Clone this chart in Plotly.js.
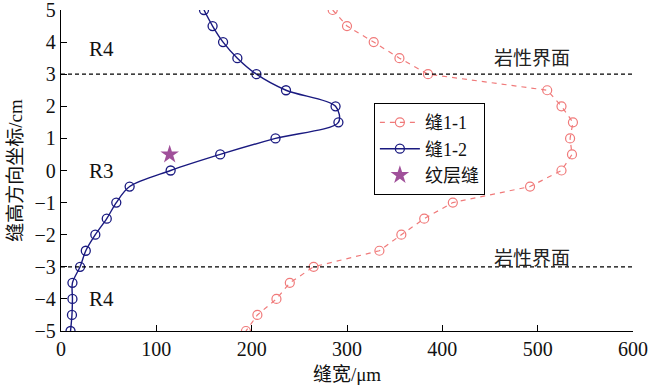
<!DOCTYPE html>
<html>
<head>
<meta charset="utf-8">
<script src="https://cdn.plot.ly/plotly-3.0.1.min.js"></script>
<style>html,body{margin:0;padding:0;background:#fff;}#chart{width:650px;height:390px;}</style>
</head>
<body>
<div id="chart"></div>
<script>
// Heights (cm)
const heights = [5, 4.5, 4, 3.5, 3, 2.5, 2, 1.5, 1, 0.5, 0, -0.5, -1, -1.5, -2, -2.5, -3, -3.5, -4, -4.5, -5];
// 缝1-1 widths (μm)
const width11 = [285, 300, 328, 355, 385, 510, 525, 537, 534, 536, 525, 492, 411, 381, 357, 334, 265, 240, 226, 206, 194];
// 缝1-2 widths (μm)
const width12 = [150, 159, 170, 185, 205, 236, 288, 291, 225, 167, 115, 72, 58, 48, 36, 26, 20, 12, 12, 11.5, 10];
// 纹层缝
const beddingX = [114];
const beddingY = [0.5];
// interfaces
const interfaceY = [3, -3];
const xTicks = [0, 100, 200, 300, 400, 500, 600];
const yTicks = [-5, -4, -3, -2, -1, 0, 1, 2, 3, 4, 5];
const yTickText = ['\u22125', '\u22124', '\u22123', '\u22122', '\u22121', '0', '1', '2', '3', '4', '5'];

const SERIF = 'Liberation Serif';
const FONT = 'Liberation Serif, Noto Sans CJK SC';
const CJK = 'Noto Sans CJK SC';

const traces = [
  {
    x: width11, y: heights, name: '缝1-1', mode: 'lines+markers', type: 'scatter',
    line: {color: '#f07a7a', width: 1.2, dash: '5px,5px'},
    marker: {symbol: 'circle-open', size: 9, color: '#f07a7a', line: {width: 1.2, color: '#f07a7a'}}
  },
  {
    x: width12, y: heights, name: '缝1-2', mode: 'lines+markers', type: 'scatter',
    line: {color: '#1a1a80', width: 1.4, shape: 'spline', smoothing: 0.9},
    marker: {symbol: 'circle-open', size: 9, color: '#1a1a80', line: {width: 1.3, color: '#1a1a80'}}
  },
  {
    x: beddingX, y: beddingY, name: '纹层缝', mode: 'markers', type: 'scatter',
    marker: {symbol: 'star', size: 14, color: '#a0509a'}
  }
];

const shapes = interfaceY.map(v => ({
  type: 'line', xref: 'paper', x0: 0, x1: 1, yref: 'y', y0: v, y1: v,
  line: {color: '#000', width: 1.3, dash: '4px,3px'}
}));

const annotations = [
  {x: 42, y: 3.8, text: 'R4'},
  {x: 42, y: 0, text: 'R3'},
  {x: 42, y: -4.0, text: 'R4'},
  {x: 494, y: 3.56, text: '岩性界面', font: {family: CJK, size: 19, color: '#222'}},
  {x: 494, y: -2.69, text: '岩性界面', font: {family: CJK, size: 19, color: '#222'}}
].map(a => Object.assign({xref: 'x', yref: 'y', showarrow: false, font: {family: SERIF, size: 21, color: '#111'}}, a));

const layout = {
  width: 650, height: 390,
  margin: {l: 61, r: 17, t: 10, b: 59},
  paper_bgcolor: '#fff', plot_bgcolor: '#fff',
  font: {family: FONT, size: 19, color: '#111'},
  showlegend: true,
  legend: {
    x: 0.547, y: 0.71, xanchor: 'left', yanchor: 'top',
    bgcolor: '#fff', bordercolor: '#000', borderwidth: 1,
    font: {family: FONT, size: 18, color: '#111'},
    tracegroupgap: 0, itemwidth: 40
  },
  xaxis: {
    range: [0, 600], tickvals: xTicks, ticks: 'inside', ticklen: 6, tickcolor: '#000',
    showline: true, linecolor: '#000', linewidth: 1.2, zeroline: false, showgrid: false,
    tickfont: {family: SERIF, size: 20, color: '#111'}, ticklabeloverflow: 'allow',
    title: {text: '缝宽/μm', font: {family: FONT, size: 19, color: '#111'}, standoff: 8}
  },
  yaxis: {
    range: [-5, 5.0001], tickvals: yTicks, ticktext: yTickText, ticks: 'inside', ticklen: 6, tickcolor: '#000',
    showline: true, linecolor: '#000', linewidth: 1.2, zeroline: false, showgrid: false,
    tickfont: {family: SERIF, size: 20, color: '#111'}, ticklabeloverflow: 'allow',
    title: {text: '缝高方向坐标/cm', font: {family: FONT, size: 19, color: '#111'}, standoff: 6}
  },
  shapes: shapes,
  annotations: annotations
};

Plotly.newPlot('chart', traces, layout, {staticPlot: true, displayModeBar: false});
</script>
</body>
</html>
